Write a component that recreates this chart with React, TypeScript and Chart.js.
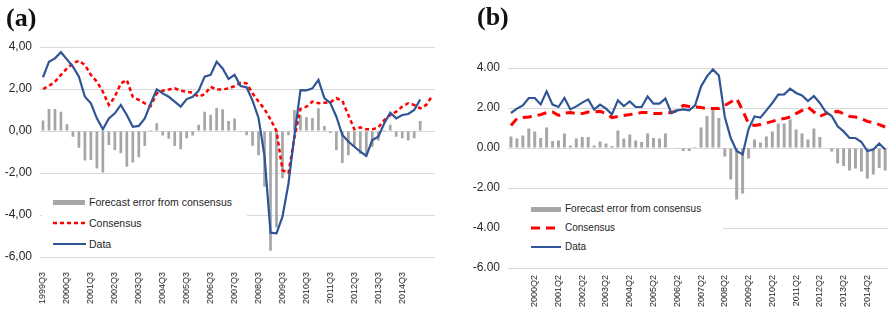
import React, { useEffect, useRef } from 'react';
import { Chart, registerables } from 'chart.js';

Chart.register(...registerables);
Chart.defaults.font.family = "'Liberation Sans', Arial, sans-serif";

// ---------- Panel (a) ----------
const quartersA = [
  '1999Q3', '1999Q4',
  '2000Q1', '2000Q2', '2000Q3', '2000Q4',
  '2001Q1', '2001Q2', '2001Q3', '2001Q4',
  '2002Q1', '2002Q2', '2002Q3', '2002Q4',
  '2003Q1', '2003Q2', '2003Q3', '2003Q4',
  '2004Q1', '2004Q2', '2004Q3', '2004Q4',
  '2005Q1', '2005Q2', '2005Q3', '2005Q4',
  '2006Q1', '2006Q2', '2006Q3', '2006Q4',
  '2007Q1', '2007Q2', '2007Q3', '2007Q4',
  '2008Q1', '2008Q2', '2008Q3', '2008Q4',
  '2009Q1', '2009Q2', '2009Q3', '2009Q4',
  '2010Q1', '2010Q2', '2010Q3', '2010Q4',
  '2011Q1', '2011Q2', '2011Q3', '2011Q4',
  '2012Q1', '2012Q2', '2012Q3', '2012Q4',
  '2013Q1', '2013Q2', '2013Q3', '2013Q4',
  '2014Q1', '2014Q2', '2014Q3', '2014Q4',
  '2015Q1', '2015Q2', '2015Q3', '2015Q4',
];
const tickLabelsA = [
  '1999Q3', '2000Q3', '2001Q3', '2002Q3', '2003Q3', '2004Q3', '2005Q3', '2006Q3',
  '2007Q3', '2008Q3', '2009Q3', '2010Q3', '2011Q3', '2012Q3', '2013Q3', '2014Q3',
];
const errorA = [
  0.5, 1.05, 1.05, 0.92, 0.32, -0.27, -0.8, -1.4, -1.38, -1.78,
  -1.98, -0.67, -0.9, -1.06, -1.7, -1.5, -1.25, -0.72, 0.05, 0.37,
  -0.22, -0.37, -0.72, -0.87, -0.35, -0.22, 0.3, 0.92, 0.77, 1.1,
  1.03, 0.48, 0.6, -0.05, -0.2, -0.7, -1.15, -2.65, -5.7, -4.6,
  -2.25, -0.2, 1.0, 0.75, 0.65, 0.62, 1.08, 0.24, -0.1, -0.9,
  -1.52, -1.15, -0.75, -1.1, -1.15, -0.75, -0.45, 0.05, 0.3, -0.27,
  -0.35, -0.45, -0.35, 0.48, null, null,
];
const consensusA = [
  2.0, 2.14, 2.35, 2.67, 2.98, 3.22, 3.35, 3.14, 2.67, 2.35,
  1.87, 1.24, 1.63, 2.27, 2.43, 1.63, 1.48, 1.32, 1.19, 1.79,
  1.92, 1.98, 2.03, 1.92, 1.87, 1.83, 1.63, 1.75, 2.1, 1.98,
  1.98, 2.03, 2.14, 2.3, 2.27, 1.8, 1.4, 1.04, 0.55, 0.0,
  -1.86, -2.0, -0.3, 1.05, 1.16, 1.4, 1.32, 1.35, 1.37, 1.56,
  1.44, 0.76, 0.08, 0.17, 0.08, 0.08, 0.17, 0.52, 0.76, 0.92,
  1.16, 1.32, 1.24, 1.08, 1.24, 1.67,
];
const dataA = [
  2.56, 3.3, 3.46, 3.75, 3.41, 3.06, 2.59, 1.63, 1.32, 0.6,
  0.08, 0.6, 0.84, 1.24, 0.76, 0.2, 0.24, 0.6, 1.32, 1.98,
  1.79, 1.63, 1.4, 1.16, 1.52, 1.63, 1.92, 2.59, 2.67, 3.3,
  2.98, 2.48, 2.67, 2.14, 2.08, 1.45, 0.62, -1.2, -4.84, -4.87,
  -4.08, -2.5, -0.2, 1.95, 1.93, 2.03, 2.43, 1.57, 1.33, 0.68,
  -0.19, -0.5, -0.75, -0.98, -1.19, -0.43, -0.27, 0.37, 0.87, 0.6,
  0.76, 0.81, 1.0, 1.5, null, null,
];

// ---------- Panel (b) ----------
const quartersB = [
  '1999Q2', '1999Q3', '1999Q4',
  '2000Q1', '2000Q2', '2000Q3', '2000Q4',
  '2001Q1', '2001Q2', '2001Q3', '2001Q4',
  '2002Q1', '2002Q2', '2002Q3', '2002Q4',
  '2003Q1', '2003Q2', '2003Q3', '2003Q4',
  '2004Q1', '2004Q2', '2004Q3', '2004Q4',
  '2005Q1', '2005Q2', '2005Q3', '2005Q4',
  '2006Q1', '2006Q2', '2006Q3', '2006Q4',
  '2007Q1', '2007Q2', '2007Q3', '2007Q4',
  '2008Q1', '2008Q2', '2008Q3', '2008Q4',
  '2009Q1', '2009Q2', '2009Q3', '2009Q4',
  '2010Q1', '2010Q2', '2010Q3', '2010Q4',
  '2011Q1', '2011Q2', '2011Q3', '2011Q4',
  '2012Q1', '2012Q2', '2012Q3', '2012Q4',
  '2013Q1', '2013Q2', '2013Q3', '2013Q4',
  '2014Q1', '2014Q2', '2014Q3', '2014Q4',
  '2015Q1',
];
const tickLabelsB = [
  '2000Q2', '2001Q2', '2002Q2', '2003Q2', '2004Q2', '2005Q2', '2006Q2', '2007Q2',
  '2008Q2', '2009Q2', '2010Q2', '2011Q2', '2012Q2', '2013Q2', '2014Q2',
];
const errorB = [
  0.58, 0.47, 0.63, 0.97, 0.83, 0.5, 1.03, 0.35, 0.38, 0.72,
  0.13, 0.47, 0.55, 0.55, 0.13, 0.33, 0.22, 0.1, 0.88, 0.47,
  0.67, 0.38, 0.3, 0.72, 0.5, 0.47, 0.72, -0.03, 0.01, -0.15,
  -0.15, 0.05, 1.02, 1.6, 1.97, 1.5, -0.42, -1.57, -2.57, -2.28,
  -0.53, 0.42, 0.27, 0.58, 0.83, 1.22, 1.22, 1.43, 0.93, 0.72,
  0.42, 0.97, 0.55, -0.03, -0.17, -0.78, -0.9, -1.12, -1.03, -1.17,
  -1.53, -1.32, -1.0, -1.12,
];
const consensusB = [
  1.13, 1.47, 1.52, 1.55, 1.6, 1.67, 1.77, 1.8, 1.63, 1.75,
  1.77, 1.72, 1.72, 1.8, 1.8, 1.83, 1.72, 1.52, 1.58, 1.63,
  1.67, 1.72, 1.77, 1.77, 1.72, 1.72, 1.75, 1.77, 1.88, 2.13,
  2.08, 2.05, 2.02, 1.97, 1.97, 1.97, 2.13, 2.3, 2.47, 1.88,
  1.22, 1.13, 1.17, 1.25, 1.33, 1.42, 1.47, 1.55, 1.72, 1.88,
  2.05, 1.8, 1.58, 1.72, 1.8, 1.83, 1.72, 1.58, 1.55, 1.47,
  1.33, 1.27, 1.17, 1.05,
];
const dataB = [
  1.75, 1.97, 2.13, 2.5, 2.5, 2.18, 2.83, 2.17, 2.05, 2.5,
  1.93, 2.08, 2.27, 2.43, 1.92, 2.17, 1.97, 1.68, 2.38, 2.1,
  2.33, 2.05, 2.05, 2.58, 2.22, 2.22, 2.47, 1.75, 1.88, 1.93,
  1.88, 2.13, 3.08, 3.58, 3.93, 3.63, 1.55, 0.5, -0.15, -0.32,
  0.95, 1.58, 1.52, 1.88, 2.25, 2.67, 2.68, 2.97, 2.75, 2.63,
  2.35, 2.6, 2.25, 1.8, 1.6, 1.08, 0.83, 0.5, 0.5, 0.3,
  -0.15, -0.08, 0.22, -0.08,
];

const yMin = -6;
const yMax = 4;
const yStep = 2;

const BLUE = '#2F5597';
const RED = '#FF0000';
const GRAY = '#A6A6A6';
const GRID = '#D9D9D9';
const TEXT = '#262626';

type PanelSpec = {
  cats: string[];
  shown: string[];
  err: (number | null)[];
  cons: (number | null)[];
  data: (number | null)[];
  decimalSep: string;
  width: number;
  height: number;
  top: number;
  padRight: number;
  yW: number;
  xH: number;
  xPad: number;
  dash: number[];
  dashW: number;
  barPct: number;
};

function fmt(v: number, sep: string) {
  return v.toFixed(2).replace('.', sep);
}

function ChartPanel({ spec, left }: { spec: PanelSpec; left: number }) {
  const ref = useRef<HTMLCanvasElement | null>(null);
  useEffect(() => {
    if (!ref.current) return;
    const p = spec;
    const chart = new Chart(ref.current, {
      type: 'bar',
      data: {
        labels: p.cats,
        datasets: [
          {
            type: 'line',
            label: 'Data',
            data: p.data,
            borderColor: BLUE,
            backgroundColor: BLUE,
            borderWidth: 2.2,
            pointRadius: 0,
            tension: 0,
            order: 1,
          } as any,
          {
            type: 'line',
            label: 'Consensus',
            data: p.cons,
            borderColor: RED,
            backgroundColor: RED,
            borderWidth: p.dashW,
            borderDash: p.dash,
            pointRadius: 0,
            tension: 0,
            order: 2,
          } as any,
          {
            type: 'bar',
            label: 'Forecast error from consensus',
            data: p.err,
            backgroundColor: GRAY,
            barPercentage: p.barPct,
            categoryPercentage: 1,
            order: 3,
          } as any,
        ],
      },
      options: {
        responsive: false,
        animation: false,
        layout: { padding: { left: 0, right: p.padRight, top: p.top, bottom: 0 } },
        plugins: { legend: { display: false }, tooltip: { enabled: false } },
        scales: {
          x: {
            offset: true,
            grid: { display: false },
            border: { display: false },
            ticks: {
              autoSkip: false,
              minRotation: 90,
              maxRotation: 90,
              padding: p.xPad,
              color: TEXT,
              font: { size: 9 },
              callback: (_v: any, i: number) => (p.shown.includes(p.cats[i]) ? p.cats[i] : ''),
            },
            afterFit: (s: any) => {
              s.height = p.xH;
            },
          },
          y: {
            min: yMin,
            max: yMax,
            ticks: {
              stepSize: yStep,
              padding: 8,
              color: TEXT,
              font: { size: 12 },
              callback: (v: any) => fmt(Number(v), p.decimalSep),
            },
            grid: { color: GRID, drawTicks: false, lineWidth: 1 },
            border: { display: false },
            afterFit: (s: any) => {
              s.width = p.yW;
            },
          },
        },
      } as any,
    });
    return () => chart.destroy();
  }, [spec]);
  return (
    <canvas
      ref={ref}
      width={spec.width}
      height={spec.height}
      style={{ position: 'absolute', left, top: 0, width: spec.width, height: spec.height }}
    />
  );
}

const specA: PanelSpec = {
  cats: quartersA,
  shown: tickLabelsA,
  err: errorA,
  cons: consensusA,
  data: dataA,
  decimalSep: ',',
  width: 450,
  height: 310,
  top: 47,
  padRight: 4,
  yW: 40,
  xH: 53,
  xPad: 7,
  dash: [4, 3],
  dashW: 2.5,
  barPct: 0.45,
};

const specB: PanelSpec = {
  cats: quartersB,
  shown: tickLabelsB,
  err: errorB,
  cons: consensusB,
  data: dataB,
  decimalSep: '.',
  width: 455,
  height: 310,
  top: 68,
  padRight: 4,
  yW: 68,
  xH: 42,
  xPad: -1,
  dash: [9, 6],
  dashW: 3,
  barPct: 0.5,
};

const txt = (left: number, centerY: number, size: number, s: string) => (
  <div
    style={{
      position: 'absolute',
      left,
      top: centerY - size * 0.6,
      fontFamily: "'Liberation Sans', Arial, sans-serif",
      fontSize: size,
      lineHeight: `${size * 1.2}px`,
      color: TEXT,
      whiteSpace: 'nowrap',
    }}
  >
    {s}
  </div>
);

export default function App() {
  return (
    <div
      style={{
        position: 'fixed',
        left: 0,
        top: 0,
        width: 888,
        height: 310,
        overflow: 'hidden',
        background: '#fff',
      }}
    >
      <ChartPanel spec={specA} left={0} />
      <ChartPanel spec={specB} left={440} />

      {/* Titles */}
      <div
        style={{
          position: 'absolute',
          left: 6,
          top: 5,
          fontFamily: "'Liberation Serif', 'Times New Roman', serif",
          fontWeight: 'bold',
          fontSize: 26,
          lineHeight: '26px',
          color: '#111',
        }}
      >
        (a)
      </div>
      <div
        style={{
          position: 'absolute',
          left: 477,
          top: 4,
          fontFamily: "'Liberation Serif', 'Times New Roman', serif",
          fontWeight: 'bold',
          fontSize: 26,
          lineHeight: '26px',
          color: '#111',
        }}
      >
        (b)
      </div>

      {/* Legend (a) */}
      <div style={{ position: 'absolute', left: 42, top: 189, width: 205, height: 64, background: '#fff' }} />
      <div style={{ position: 'absolute', left: 53, top: 200, width: 32, height: 5, background: GRAY }} />
      <svg style={{ position: 'absolute', left: 53, top: 221 }} width={34} height={4}>
        <line x1={0} y1={2} x2={34} y2={2} stroke={RED} strokeWidth={2.5} strokeDasharray="4 3" />
      </svg>
      <div style={{ position: 'absolute', left: 53, top: 243, width: 33, height: 2, background: BLUE }} />
      {txt(89, 202, 10.5, 'Forecast error from consensus')}
      {txt(89, 223, 10.5, 'Consensus')}
      {txt(89, 244, 10.5, 'Data')}

      {/* Legend (b) */}
      <div style={{ position: 'absolute', left: 508, top: 196, width: 215, height: 62, background: '#fff' }} />
      <div style={{ position: 'absolute', left: 531, top: 207, width: 30, height: 5, background: GRAY }} />
      <svg style={{ position: 'absolute', left: 531, top: 226 }} width={30} height={4}>
        <line x1={0} y1={2} x2={30} y2={2} stroke={RED} strokeWidth={3} strokeDasharray="9 6" />
      </svg>
      <div style={{ position: 'absolute', left: 531, top: 246, width: 30, height: 2, background: BLUE }} />
      {txt(565, 209, 10, 'Forecast error from consensus')}
      {txt(565, 228, 10, 'Consensus')}
      {txt(565, 247, 10, 'Data')}
    </div>
  );
}
